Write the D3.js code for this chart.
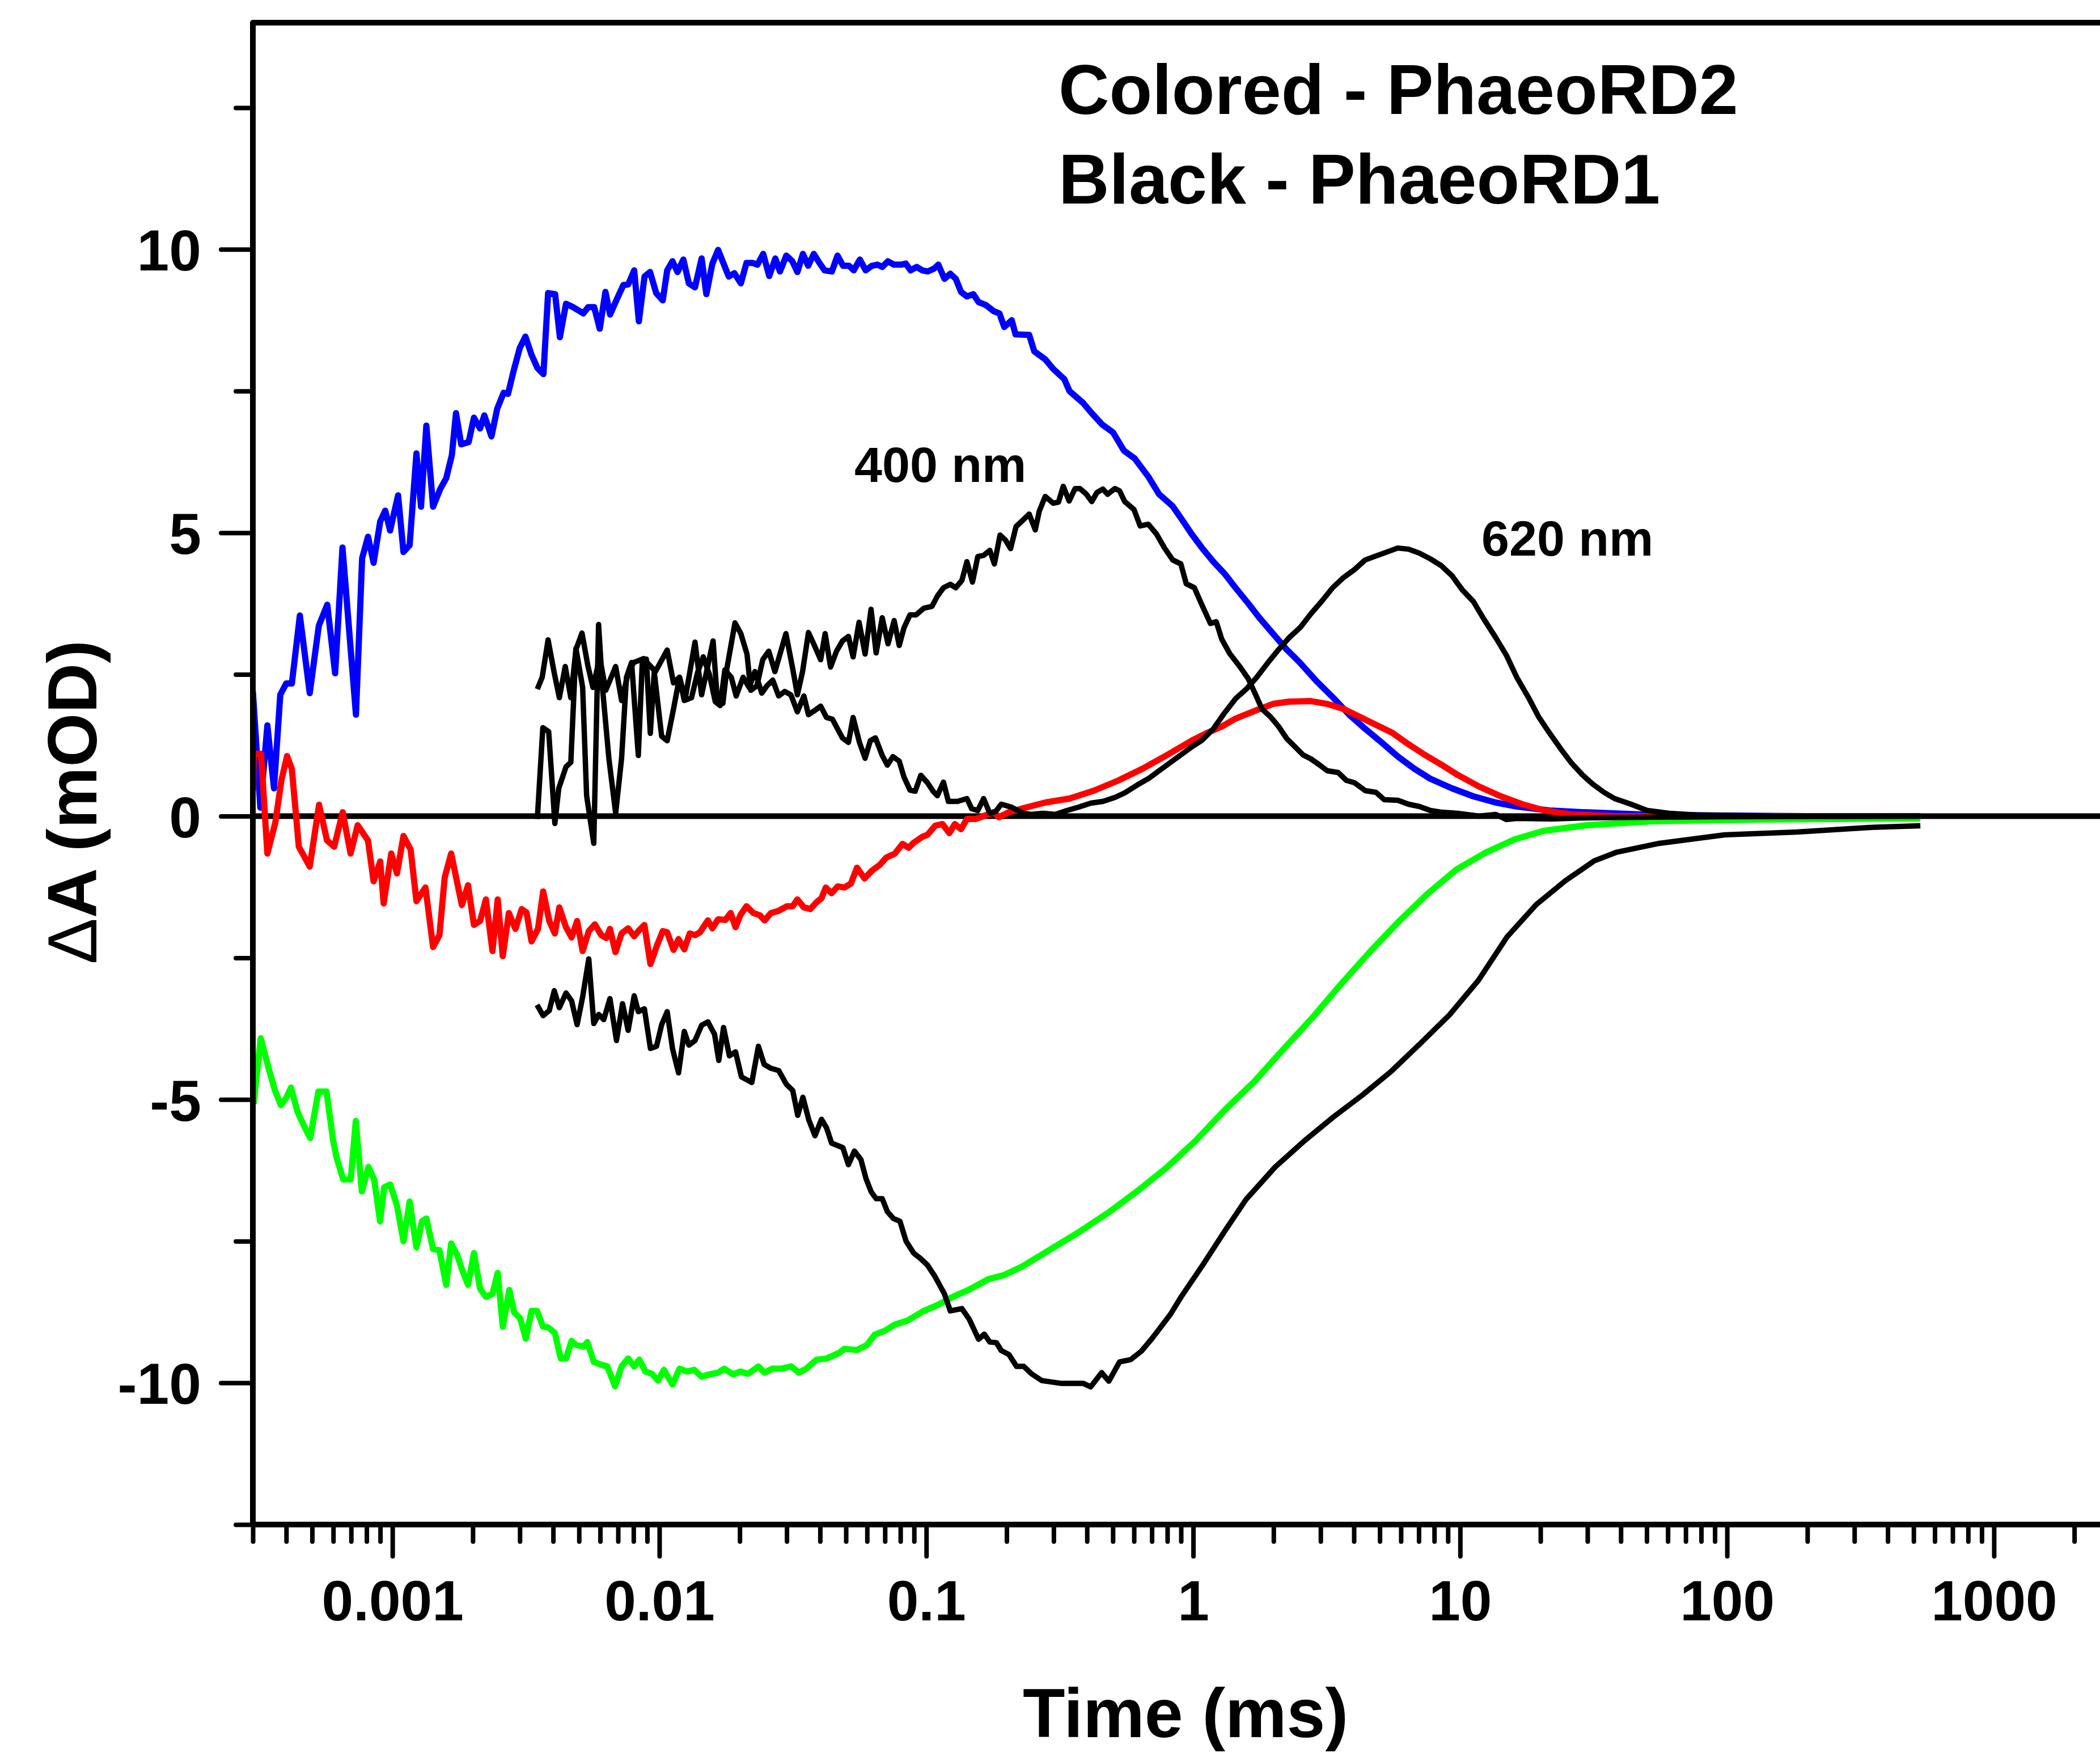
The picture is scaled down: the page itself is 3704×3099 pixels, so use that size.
<!DOCTYPE html>
<html><head><meta charset="utf-8">
<script src="https://cdn.jsdelivr.net/npm/d3@7"></script>
<style>html,body{margin:0;padding:0;background:#fff;overflow:hidden}svg{display:block}</style>
</head><body>
<svg id="chart" width="3704" height="3099"></svg>
<script>
// ---- tick values / labels ----
const xTickValues = [0.001, 0.01, 0.1, 1, 10, 100, 1000];
const xTickLabels = ["0.001", "0.01", "0.1", "1", "10", "100", "1000"];
const yTickValues = [-10, -5, 0, 5, 10];
const yTickLabels = ["-10", "-5", "0", "5", "10"];
const yMinorValues = [-12.5, -7.5, -2.5, 2.5, 7.5, 12.5];

// ---- PhaeoRD2 (colored) : [time (ms), dA (mOD)] ----
const blueRD2 = [[3.0e-4,2.2],[3.2e-4,0.15],[3.4e-4,1.6],[3.6e-4,0.49],[3.8e-4,2.14],[4.0e-4,2.34],[4.2e-4,2.34],[4.5e-4,3.54],[4.9e-4,2.17],[5.3e-4,3.36],[5.7e-4,3.73],[6.1e-4,2.52],[6.5e-4,4.74],[7.3e-4,1.79],[7.7e-4,4.55],[8.1e-4,4.93],[8.5e-4,4.47],[9.0e-4,5.2],[9.4e-4,5.39],[9.8e-4,5.04],[1.05e-3,5.66],[1.1e-3,4.66],[1.16e-3,4.78],[1.23e-3,6.4],[1.28e-3,5.46],[1.34e-3,6.89],[1.42e-3,5.46],[1.51e-3,5.77],[1.59e-3,5.96],[1.67e-3,6.37],[1.73e-3,7.11],[1.81e-3,6.56],[1.93e-3,6.6],[2.02e-3,7.03],[2.13e-3,6.84],[2.21e-3,7.07],[2.35e-3,6.7],[2.47e-3,7.19],[2.61e-3,7.47],[2.71e-3,7.45],[2.85e-3,7.87],[3.0e-3,8.26],[3.15e-3,8.46],[3.32e-3,8.14],[3.49e-3,7.91],[3.68e-3,7.8],[3.83e-3,9.23],[4.07e-3,9.21],[4.24e-3,8.45],[4.47e-3,9.04],[4.75e-3,8.98],[4.99e-3,8.92],[5.19e-3,8.87],[5.41e-3,8.98],[5.7e-3,8.98],[5.98e-3,8.6],[6.28e-3,9.25],[6.54e-3,8.85],[6.9e-3,9.1],[7.33e-3,9.37],[7.64e-3,9.38],[8.05e-3,9.63],[8.38e-3,8.73],[8.8e-3,9.52],[9.23e-3,9.6],[9.73e-3,9.23],[1.03e-2,9.1],[1.07e-2,9.63],[1.12e-2,9.79],[1.17e-2,9.6],[1.23e-2,9.82],[1.29e-2,9.4],[1.36e-2,9.33],[1.44e-2,9.84],[1.5e-2,9.21],[1.58e-2,9.75],[1.66e-2,9.99],[1.74e-2,9.75],[1.82e-2,9.52],[1.91e-2,9.58],[2.02e-2,9.4],[2.12e-2,9.76],[2.24e-2,9.76],[2.33e-2,9.73],[2.45e-2,9.92],[2.58e-2,9.53],[2.72e-2,9.84],[2.83e-2,9.61],[2.99e-2,9.89],[3.15e-2,9.79],[3.29e-2,9.6],[3.45e-2,9.92],[3.61e-2,9.71],[3.79e-2,9.92],[3.98e-2,9.76],[4.16e-2,9.63],[4.43e-2,9.61],[4.65e-2,9.89],[4.88e-2,9.71],[5.14e-2,9.71],[5.35e-2,9.63],[5.64e-2,9.82],[5.93e-2,9.63],[6.25e-2,9.71],[6.56e-2,9.73],[6.84e-2,9.69],[7.18e-2,9.79],[7.57e-2,9.73],[8.05e-2,9.73],[8.38e-2,9.75],[8.73e-2,9.63],[9.2e-2,9.69],[9.66e-2,9.63],[0.1014,9.61],[0.107,9.66],[0.111,9.73],[0.117,9.48],[0.123,9.57],[0.129,9.48],[0.135,9.25],[0.142,9.17],[0.150,9.21],[0.157,9.07],[0.167,9.02],[0.179,8.91],[0.188,8.87],[0.196,8.63],[0.209,8.75],[0.216,8.5],[0.243,8.49],[0.254,8.2],[0.279,8.06],[0.299,7.89],[0.329,7.71],[0.344,7.5],[0.387,7.29],[0.415,7.12],[0.456,6.91],[0.501,6.77],[0.55,6.45],[0.604,6.31],[0.679,5.99],[0.745,5.68],[0.837,5.47],[0.899,5.26],[0.986,4.98],[1.08,4.73],[1.19,4.49],[1.31,4.28],[1.44,4.03],[1.61,3.75],[1.77,3.5],[1.99,3.22],[2.24,2.94],[2.52,2.7],[2.9,2.38],[3.33,2.1],[3.84,1.79],[4.41,1.54],[5.08,1.3],[5.85,1.05],[6.72,0.84],[7.73,0.66],[9.33,0.49],[11.2,0.35],[13.6,0.24],[16.3,0.17],[21.6,0.1],[28.6,0.07],[48,0.03],[96.8,0.01],[200,0.0],[530,0.0]];

const redRD2 = [[3.0e-4,0.45],[3.02e-4,1.1],[3.22e-4,1.1],[3.4e-4,-0.66],[3.64e-4,-0.12],[3.84e-4,0.64],[4.03e-4,1.06],[4.2e-4,0.83],[4.46e-4,-0.54],[4.9e-4,-0.89],[5.31e-4,0.2],[5.69e-4,-0.43],[6.05e-4,-0.54],[6.51e-4,0.07],[6.97e-4,-0.66],[7.41e-4,-0.16],[8.1e-4,-0.43],[8.5e-4,-1.15],[9.0e-4,-0.8],[9.27e-4,-1.54],[9.9e-4,-0.66],[1.04e-3,-1.01],[1.1e-3,-0.35],[1.17e-3,-0.59],[1.23e-3,-1.5],[1.33e-3,-1.26],[1.42e-3,-2.31],[1.5e-3,-2.1],[1.57e-3,-1.08],[1.66e-3,-0.66],[1.82e-3,-1.57],[1.92e-3,-1.22],[2.02e-3,-1.92],[2.13e-3,-1.85],[2.24e-3,-1.47],[2.37e-3,-2.38],[2.48e-3,-1.47],[2.59e-3,-2.47],[2.73e-3,-1.71],[2.89e-3,-1.99],[3.05e-3,-1.64],[3.18e-3,-1.7],[3.32e-3,-2.21],[3.51e-3,-1.99],[3.67e-3,-1.33],[3.87e-3,-1.85],[4.06e-3,-2.07],[4.22e-3,-1.61],[4.47e-3,-1.96],[4.69e-3,-2.14],[4.92e-3,-1.85],[5.16e-3,-2.38],[5.44e-3,-2.03],[5.73e-3,-1.91],[6.06e-3,-2.1],[6.33e-3,-2.15],[6.53e-3,-1.99],[6.85e-3,-2.4],[7.22e-3,-2.07],[7.64e-3,-1.98],[8.05e-3,-2.12],[8.34e-3,-2.03],[8.79e-3,-1.92],[9.26e-3,-2.61],[9.8e-3,-2.28],[1.03e-2,-2.03],[1.07e-2,-2.05],[1.13e-2,-2.36],[1.18e-2,-2.17],[1.24e-2,-2.35],[1.3e-2,-2.07],[1.36e-2,-2.1],[1.42e-2,-2.05],[1.52e-2,-1.84],[1.58e-2,-1.98],[1.66e-2,-1.82],[1.77e-2,-1.83],[1.85e-2,-1.71],[1.93e-2,-1.96],[2.01e-2,-1.75],[2.12e-2,-1.59],[2.25e-2,-1.71],[2.38e-2,-1.75],[2.48e-2,-1.84],[2.62e-2,-1.71],[2.8e-2,-1.67],[3.01e-2,-1.59],[3.16e-2,-1.59],[3.29e-2,-1.47],[3.48e-2,-1.61],[3.68e-2,-1.64],[3.88e-2,-1.52],[4.05e-2,-1.45],[4.2e-2,-1.26],[4.42e-2,-1.36],[4.66e-2,-1.24],[4.93e-2,-1.26],[5.22e-2,-1.19],[5.5e-2,-0.91],[5.87e-2,-1.1],[6.27e-2,-0.96],[6.7e-2,-0.86],[7.09e-2,-0.73],[7.63e-2,-0.66],[8.15e-2,-0.49],[8.59e-2,-0.56],[8.97e-2,-0.47],[9.63e-2,-0.37],[0.101,-0.33],[0.108,-0.17],[0.115,-0.14],[0.122,-0.3],[0.128,-0.14],[0.135,-0.23],[0.142,-0.05],[0.153,-0.05],[0.164,0.0],[0.179,0.07],[0.187,-0.02],[0.204,0.07],[0.231,0.14],[0.279,0.24],[0.344,0.31],[0.425,0.45],[0.525,0.63],[0.648,0.84],[0.8,1.08],[0.986,1.33],[1.13,1.47],[1.28,1.58],[1.44,1.72],[1.77,1.89],[1.99,1.98],[2.29,2.02],[2.76,2.03],[3.18,1.98],[3.66,1.89],[4.21,1.75],[4.84,1.61],[5.57,1.47],[6.26,1.3],[7.38,1.08],[8.49,0.91],[9.77,0.73],[11.8,0.52],[14.2,0.35],[17.1,0.21],[20.7,0.1],[26.1,0.03],[37.9,0.0],[530,0.0]];

const greenRD2 = [[3.02e-4,-5.08],[3.21e-4,-3.92],[3.47e-4,-4.52],[3.63e-4,-4.84],[3.82e-4,-5.1],[3.99e-4,-4.98],[4.17e-4,-4.79],[4.41e-4,-5.22],[4.67e-4,-5.47],[4.92e-4,-5.68],[5.28e-4,-4.86],[5.66e-4,-4.86],[5.99e-4,-5.71],[6.18e-4,-6.03],[6.54e-4,-6.41],[6.98e-4,-6.41],[7.29e-4,-5.38],[7.68e-4,-6.62],[8.13e-4,-6.19],[8.54e-4,-6.41],[8.99e-4,-7.15],[9.31e-4,-6.55],[9.81e-4,-6.5],[1.04e-3,-6.87],[1.1e-3,-7.5],[1.16e-3,-6.8],[1.23e-3,-7.61],[1.29e-3,-7.15],[1.34e-3,-7.1],[1.42e-3,-7.64],[1.5e-3,-7.66],[1.59e-3,-8.27],[1.66e-3,-7.54],[1.75e-3,-7.75],[1.82e-3,-7.99],[1.92e-3,-8.27],[2.02e-3,-7.71],[2.13e-3,-8.34],[2.24e-3,-8.48],[2.37e-3,-8.43],[2.48e-3,-8.06],[2.59e-3,-9.01],[2.74e-3,-8.36],[2.86e-3,-8.76],[3.01e-3,-8.86],[3.16e-3,-9.22],[3.32e-3,-8.73],[3.48e-3,-8.73],[3.67e-3,-9.01],[3.83e-3,-9.02],[4.06e-3,-9.12],[4.27e-3,-9.57],[4.47e-3,-9.57],[4.69e-3,-9.26],[4.87e-3,-9.33],[5.2e-3,-9.36],[5.37e-3,-9.28],[5.68e-3,-9.63],[6.06e-3,-9.68],[6.39e-3,-9.71],[6.82e-3,-10.06],[7.22e-3,-9.71],[7.64e-3,-9.57],[8.05e-3,-9.71],[8.41e-3,-9.59],[8.87e-3,-9.8],[9.38e-3,-9.84],[9.89e-3,-9.96],[1.04e-2,-9.77],[1.12e-2,-10.03],[1.19e-2,-9.75],[1.27e-2,-9.8],[1.35e-2,-9.77],[1.44e-2,-9.89],[1.54e-2,-9.85],[1.66e-2,-9.82],[1.75e-2,-9.75],[1.89e-2,-9.85],[2.01e-2,-9.8],[2.15e-2,-9.84],[2.35e-2,-9.71],[2.48e-2,-9.82],[2.65e-2,-9.75],[2.86e-2,-9.75],[3.12e-2,-9.71],[3.33e-2,-9.82],[3.55e-2,-9.75],[3.88e-2,-9.59],[4.23e-2,-9.57],[4.72e-2,-9.47],[4.93e-2,-9.4],[5.5e-2,-9.42],[6.0e-2,-9.33],[6.41e-2,-9.15],[7.0e-2,-9.08],[7.63e-2,-8.97],[8.51e-2,-8.9],[9.7e-2,-8.74],[0.111,-8.62],[0.126,-8.48],[0.144,-8.36],[0.171,-8.17],[0.195,-8.1],[0.228,-7.95],[0.293,-7.64],[0.376,-7.33],[0.483,-6.99],[0.62,-6.61],[0.796,-6.2],[1.02,-5.73],[1.31,-5.19],[1.69,-4.69],[2.17,-4.12],[2.78,-3.57],[3.57,-2.97],[4.58,-2.4],[5.89,-1.86],[7.55,-1.37],[9.7,-0.94],[12.5,-0.64],[16.0,-0.41],[20.5,-0.26],[29.9,-0.16],[52.5,-0.09],[134,-0.06],[530,-0.04]];

// ---- PhaeoRD1 (black) ----
const black400RD1 = [[3.49e-3,2.24],[3.64e-3,2.45],[3.83e-3,3.11],[4.03e-3,2.55],[4.22e-3,2.09],[4.44e-3,2.64],[4.66e-3,2.09],[4.87e-3,2.94],[5.13e-3,3.23],[5.4e-3,2.65],[5.64e-3,2.27],[5.98e-3,2.8],[6.3e-3,2.22],[6.86e-3,2.64],[7.22e-3,2.04],[7.6e-3,2.48],[8.01e-3,2.71],[8.73e-3,2.78],[9.67e-3,2.55],[1.07e-2,2.93],[1.13e-2,2.35],[1.19e-2,2.45],[1.25e-2,2.07],[1.36e-2,3.07],[1.44e-2,2.14],[1.59e-2,3.09],[1.65e-2,2.02],[1.73e-2,1.99],[1.79e-2,2.6],[1.92e-2,3.41],[2.02e-2,3.22],[2.13e-2,2.86],[2.2e-2,2.22],[2.32e-2,2.3],[2.44e-2,2.76],[2.57e-2,2.91],[2.71e-2,2.55],[2.98e-2,3.22],[3.16e-2,2.6],[3.29e-2,2.14],[3.44e-2,2.55],[3.62e-2,3.24],[3.81e-2,3.01],[4.02e-2,2.76],[4.18e-2,3.22],[4.38e-2,2.63],[4.61e-2,2.91],[4.85e-2,3.09],[5.11e-2,3.17],[5.32e-2,2.81],[5.6e-2,3.42],[5.9e-2,2.86],[6.21e-2,3.65],[6.49e-2,2.88],[6.84e-2,3.5],[7.19e-2,3.04],[7.58e-2,3.45],[7.92e-2,3.01],[8.25e-2,3.32],[8.69e-2,3.55],[9.15e-2,3.55],[9.8e-2,3.67],[0.105,3.7],[0.11,3.88],[0.116,4.03],[0.123,4.09],[0.129,4.03],[0.136,4.16],[0.142,4.49],[0.149,4.13],[0.156,4.58],[0.164,4.6],[0.173,4.69],[0.18,4.45],[0.189,4.96],[0.198,4.87],[0.207,4.72],[0.217,5.11],[0.231,5.23],[0.243,5.33],[0.256,5.05],[0.265,5.38],[0.279,5.64],[0.299,5.52],[0.313,5.54],[0.326,5.82],[0.343,5.56],[0.361,5.78],[0.376,5.78],[0.398,5.68],[0.417,5.55],[0.436,5.71],[0.459,5.77],[0.478,5.68],[0.509,5.78],[0.53,5.74],[0.554,5.55],[0.6,5.41],[0.633,5.12],[0.679,5.15],[0.728,4.98],[0.781,4.73],[0.838,4.52],[0.899,4.45],[0.942,4.1],[1.01,4.03],[1.08,3.72],[1.16,3.4],[1.22,3.43],[1.28,3.12],[1.37,2.87],[1.5,2.63],[1.61,2.42],[1.73,2.1],[1.81,1.89],[1.95,1.75],[2.09,1.58],[2.24,1.37],[2.4,1.23],[2.58,1.08],[2.76,1.01],[2.96,0.91],[3.18,0.8],[3.49,0.77],[3.75,0.63],[4.02,0.59],[4.41,0.45],[4.84,0.42],[5.2,0.29],[5.84,0.28],[6.41,0.21],[7.04,0.17],[7.73,0.1],[8.5,0.07],[9.77,0.05],[11.8,0.0],[13.6,0.03],[14.9,-0.06],[16.3,-0.04],[22,-0.05],[30,-0.03],[50,-0.02],[100,-0.01],[530,0.0]];

const black620RD1 = [[3.49e-3,-0.05],[3.66e-3,1.56],[3.85e-3,1.49],[4.06e-3,-0.13],[4.2e-3,0.49],[4.47e-3,0.87],[4.66e-3,0.95],[4.87e-3,2.96],[5.16e-3,2.27],[5.34e-3,0.36],[5.68e-3,-0.48],[5.92e-3,3.38],[6.13e-3,2.24],[6.47e-3,1.02],[6.86e-3,0.05],[7.22e-3,1.02],[7.53e-3,2.45],[7.87e-3,2.71],[8.34e-3,1.07],[8.64e-3,2.76],[8.94e-3,2.77],[9.25e-3,1.46],[9.57e-3,2.54],[1.02e-2,1.41],[1.07e-2,1.33],[1.13e-2,1.89],[1.19e-2,2.45],[1.24e-2,2.04],[1.32e-2,2.09],[1.39e-2,2.53],[1.46e-2,2.81],[1.54e-2,2.5],[1.62e-2,2.02],[1.69e-2,1.95],[1.76e-2,2.58],[1.86e-2,2.45],[1.94e-2,2.12],[2.06e-2,2.45],[2.17e-2,2.27],[2.28e-2,2.55],[2.42e-2,2.17],[2.53e-2,2.3],[2.66e-2,2.4],[2.8e-2,2.12],[2.95e-2,2.2],[3.11e-2,2.14],[3.29e-2,1.84],[3.48e-2,2.12],[3.62e-2,1.79],[3.81e-2,1.86],[4.02e-2,1.94],[4.23e-2,1.74],[4.45e-2,1.71],[4.85e-2,1.38],[5.11e-2,1.3],[5.32e-2,1.74],[5.62e-2,1.3],[5.9e-2,1.02],[6.17e-2,1.33],[6.45e-2,1.38],[6.84e-2,1.07],[7.15e-2,0.9],[7.5e-2,1.05],[7.92e-2,0.97],[8.25e-2,0.69],[8.69e-2,0.46],[9.09e-2,0.44],[9.54e-2,0.72],[0.101,0.59],[0.106,0.44],[0.11,0.36],[0.116,0.6],[0.121,0.26],[0.131,0.26],[0.142,0.31],[0.148,0.13],[0.156,0.1],[0.164,0.31],[0.173,0.05],[0.182,0.08],[0.191,0.21],[0.208,0.16],[0.231,0.05],[0.247,0.03],[0.274,0.05],[0.304,0.03],[0.337,0.1],[0.373,0.16],[0.414,0.23],[0.459,0.26],[0.509,0.33],[0.554,0.41],[0.618,0.55],[0.679,0.66],[0.745,0.8],[0.818,0.94],[0.899,1.08],[0.987,1.22],[1.08,1.34],[1.19,1.54],[1.31,1.82],[1.44,2.07],[1.58,2.24],[1.73,2.45],[1.9,2.7],[2.09,2.94],[2.29,3.15],[2.52,3.33],[2.76,3.57],[3.03,3.79],[3.33,4.03],[3.66,4.21],[4.02,4.35],[4.41,4.52],[4.84,4.59],[5.32,4.66],[5.84,4.73],[6.41,4.71],[7.04,4.64],[7.73,4.54],[8.5,4.42],[9.33,4.24],[10.2,3.99],[11.2,3.79],[12.3,3.47],[13.6,3.15],[14.9,2.84],[16.3,2.45],[18.0,2.1],[19.7,1.75],[21.6,1.47],[23.8,1.19],[26.1,0.94],[28.7,0.73],[31.5,0.56],[34.6,0.42],[37.9,0.31],[43.7,0.21],[50.2,0.1],[60.6,0.05],[76.6,0.02],[150,0.0],[530,0.0]];

const blackNegRD1 = [[3.48e-3,-3.33],[3.67e-3,-3.52],[3.87e-3,-3.43],[4.04e-3,-3.08],[4.22e-3,-3.38],[4.47e-3,-3.12],[4.69e-3,-3.26],[4.92e-3,-3.68],[5.16e-3,-3.19],[5.44e-3,-2.52],[5.68e-3,-3.66],[5.93e-3,-3.5],[6.19e-3,-3.59],[6.53e-3,-3.22],[6.91e-3,-3.96],[7.28e-3,-3.31],[7.64e-3,-3.78],[8.05e-3,-3.17],[8.34e-3,-3.45],[8.79e-3,-3.4],[9.26e-3,-4.1],[9.76e-3,-4.06],[1.02e-2,-3.68],[1.07e-2,-3.45],[1.12e-2,-4.1],[1.18e-2,-4.53],[1.24e-2,-3.8],[1.29e-2,-4.04],[1.36e-2,-3.96],[1.44e-2,-3.69],[1.52e-2,-3.63],[1.61e-2,-3.85],[1.67e-2,-4.31],[1.74e-2,-3.73],[1.83e-2,-4.23],[1.93e-2,-4.16],[2.03e-2,-4.6],[2.22e-2,-4.7],[2.35e-2,-4.06],[2.47e-2,-4.38],[2.62e-2,-4.45],[2.8e-2,-4.49],[2.99e-2,-4.73],[3.16e-2,-4.84],[3.3e-2,-5.28],[3.45e-2,-4.96],[3.63e-2,-5.36],[3.83e-2,-5.64],[4.05e-2,-5.35],[4.23e-2,-5.5],[4.42e-2,-5.77],[4.87e-2,-5.85],[5.11e-2,-6.15],[5.38e-2,-5.91],[5.69e-2,-6.06],[5.95e-2,-6.4],[6.22e-2,-6.63],[6.49e-2,-6.75],[6.84e-2,-6.75],[7.15e-2,-6.98],[7.53e-2,-7.1],[7.97e-2,-7.15],[8.4e-2,-7.5],[8.97e-2,-7.71],[9.49e-2,-7.8],[0.101,-7.92],[0.108,-8.13],[0.117,-8.43],[0.123,-8.73],[0.136,-8.69],[0.145,-8.88],[0.157,-9.23],[0.165,-9.14],[0.173,-9.28],[0.183,-9.29],[0.191,-9.43],[0.204,-9.5],[0.218,-9.71],[0.232,-9.71],[0.248,-9.84],[0.271,-9.96],[0.322,-10.01],[0.388,-10.01],[0.413,-10.07],[0.454,-9.82],[0.483,-9.97],[0.53,-9.63],[0.583,-9.59],[0.64,-9.44],[0.703,-9.21],[0.822,-8.79],[0.902,-8.48],[1.09,-7.91],[1.31,-7.33],[1.58,-6.76],[2.03,-6.19],[2.61,-5.73],[3.35,-5.31],[4.31,-4.92],[5.53,-4.5],[7.1,-4.01],[9.11,-3.51],[11.7,-2.9],[15.0,-2.13],[19.3,-1.56],[24.8,-1.14],[31.8,-0.79],[38.4,-0.64],[55.8,-0.48],[98,-0.33],[183,-0.28],[342,-0.2],[530,-0.17]];

const seriesList = [
  {data: blueRD2, color: "#0000ff", width: 11},
  {data: redRD2, color: "#ff0000", width: 11},
  {data: greenRD2, color: "#00ff00", width: 11},
  {data: black400RD1, color: "#000000", width: 9.5},
  {data: black620RD1, color: "#000000", width: 9.5},
  {data: blackNegRD1, color: "#000000", width: 9.5}
];

// ---- layout ----
const FONT = "'Liberation Sans', Arial, Helvetica, sans-serif";
const plotLeft = 446, plotTop = 40, plotBottom = 2689, plotRight = 3846;
const svg = d3.select("#chart");

const x = d3.scaleLog().domain([3e-4, 5000]).range([plotLeft, plotRight]);
const y = d3.scaleLinear().domain([-12.5, 14]).range([plotBottom, plotTop]);

svg.append("rect").attr("width", 3704).attr("height", 3099).attr("fill", "#fff");

svg.append("defs").append("clipPath").attr("id", "clip")
  .append("rect").attr("x", plotLeft).attr("y", plotTop)
  .attr("width", plotRight - plotLeft).attr("height", plotBottom - plotTop);

// zero line
svg.append("line")
  .attr("x1", plotLeft).attr("x2", plotRight)
  .attr("y1", y(0)).attr("y2", y(0))
  .attr("stroke", "#000").attr("stroke-width", 10);

// data
const line = d3.line().x(d => x(d[0])).y(d => y(d[1]));
const dataG = svg.append("g").attr("clip-path", "url(#clip)");
seriesList.forEach(s => {
  dataG.append("path").datum(s.data)
    .attr("d", line)
    .attr("fill", "none")
    .attr("stroke", s.color)
    .attr("stroke-width", s.width)
    .attr("stroke-linejoin", "round")
    .attr("stroke-linecap", "butt");
});

// minor x ticks
const xMinor = [];
for (let e = -4; e <= 3; e++) {
  for (let m = 2; m <= 9; m++) {
    const v = m * Math.pow(10, e);
    if (v >= 3e-4 && v <= 5000) xMinor.push(v);
  }
}

const xAxisMinor = svg.append("g").attr("transform", `translate(0,${plotBottom})`)
  .call(d3.axisBottom(x).tickValues(xMinor).tickSize(30).tickFormat(""));
const xAxisMajor = svg.append("g").attr("transform", `translate(0,${plotBottom})`)
  .call(d3.axisBottom(x).tickValues(xTickValues).tickSize(56)
    .tickFormat((d, i) => xTickLabels[i]));
xAxisMajor.selectAll("text").attr("y", 169).attr("dy", 0)
  .attr("font-family", FONT).attr("font-weight", "bold").attr("font-size", 100).attr("fill", "#000");

const yAxisMinor = svg.append("g").attr("transform", `translate(${plotLeft},0)`)
  .call(d3.axisLeft(y).tickValues(yMinorValues).tickSize(30).tickFormat(""));
const yAxisMajor = svg.append("g").attr("transform", `translate(${plotLeft},0)`)
  .call(d3.axisLeft(y).tickValues(yTickValues).tickSize(56)
    .tickFormat((d, i) => yTickLabels[i]));
yAxisMajor.selectAll("text").attr("x", -91).attr("dy", "0.36em")
  .attr("font-family", FONT).attr("font-weight", "bold").attr("font-size", 102).attr("fill", "#000");

[xAxisMinor, xAxisMajor, yAxisMinor, yAxisMajor].forEach(g => {
  g.select(".domain").remove();
  g.selectAll(".tick line").attr("stroke", "#000").attr("stroke-width", 8).attr("stroke-linecap", "round");
});

// frame
svg.append("rect")
  .attr("x", plotLeft).attr("y", plotTop)
  .attr("width", plotRight - plotLeft).attr("height", plotBottom - plotTop)
  .attr("fill", "none").attr("stroke", "#000").attr("stroke-width", 10)
  .attr("stroke-linejoin", "round");

// axis titles
svg.append("text")
  .attr("x", 2091).attr("y", 3064)
  .attr("text-anchor", "middle")
  .attr("font-family", FONT).attr("font-weight", "bold").attr("font-size", 122)
  .text("Time (ms)");

const yt = svg.append("text")
  .attr("transform", "translate(170,1415) rotate(-90)")
  .attr("text-anchor", "middle")
  .attr("font-family", FONT).attr("font-weight", "bold").attr("font-size", 122);
yt.append("tspan").attr("font-weight", "normal").text("\u0394");
yt.append("tspan").text("A (mOD)");

// annotations
svg.append("text").attr("x", 1867).attr("y", 201)
  .attr("font-family", FONT).attr("font-weight", "bold").attr("font-size", 124)
  .text("Colored - PhaeoRD2");
svg.append("text").attr("x", 1867).attr("y", 359)
  .attr("font-family", FONT).attr("font-weight", "bold").attr("font-size", 124)
  .text("Black - PhaeoRD1");
svg.append("text").attr("x", 1507).attr("y", 850)
  .attr("font-family", FONT).attr("font-weight", "bold").attr("font-size", 88)
  .text("400 nm");
svg.append("text").attr("x", 2613).attr("y", 980)
  .attr("font-family", FONT).attr("font-weight", "bold").attr("font-size", 88)
  .text("620 nm");
</script>
</body></html>
